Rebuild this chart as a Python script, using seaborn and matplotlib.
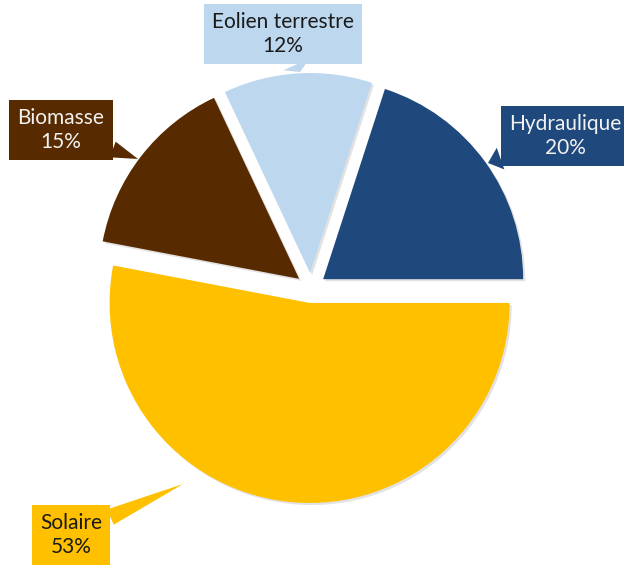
import numpy as np
import matplotlib
matplotlib.use("Agg")
import matplotlib.pyplot as plt
import matplotlib.patheffects as pe
import seaborn as sns

# data
sources = ['Hydraulique', 'Eolien terrestre', 'Biomasse', 'Solaire']
shares = [20, 12, 15, 53]
slice_colors = ['#1F497D', '#BDD7EE', '#582A00', '#FFC000']
text_colors = ['#F2F2F2', '#1A1A1A', '#F2F2F2', '#1A1A1A']

# layout (pixels, origin top-left)
W, H = 624, 565
S = 200.0  # pixels per pie radius
box_px = [(565, 136), (283, 34), (61, 130), (71, 535)]
tip_px = [(488, 163), (300, 72), (138, 159), (183, 484)]
tail_w = [1.1, 1.4, 0.8, 0.8]

sns.set_style("white")
plt.rcParams['font.family'] = ['Lato', 'DejaVu Sans']

fig = plt.figure(figsize=(W / 100, H / 100), dpi=100)
ax = fig.add_axes([0, 0, 1, 1])

shadow = [pe.SimplePatchShadow(offset=(1.5, -1.5), shadow_rgbFace='#8c8c8c', alpha=0.25), pe.Normal()]
wedges, _ = ax.pie(shares, colors=slice_colors, startangle=0, counterclock=True,
                   explode=[0.075] * len(shares), radius=1.0,
                   center=(311 / S, (H - 288) / S),
                   wedgeprops=dict(linewidth=0, path_effects=shadow))

ax.set_xlim(0, W / S)
ax.set_ylim(0, H / S)
ax.set_aspect('equal')
ax.axis('off')

for name, val, fc, tc, (bx, by), (tx, ty), tw in zip(sources, shares, slice_colors,
                                                      text_colors, box_px, tip_px, tail_w):
    ax.annotate(f"{name}\n{val}%",
                xy=(tx / S, (H - ty) / S), xytext=(bx / S, (H - by) / S),
                ha='center', va='center', fontsize=15, color=tc, linespacing=1.25,
                bbox=dict(boxstyle='square,pad=0.4', fc=fc, ec='none'),
                arrowprops=dict(arrowstyle=f'wedge,tail_width={tw},shrink_factor=0.5',
                                fc=fc, ec='none', shrinkA=0, shrinkB=0))

fig.savefig('out.png', dpi=100)
